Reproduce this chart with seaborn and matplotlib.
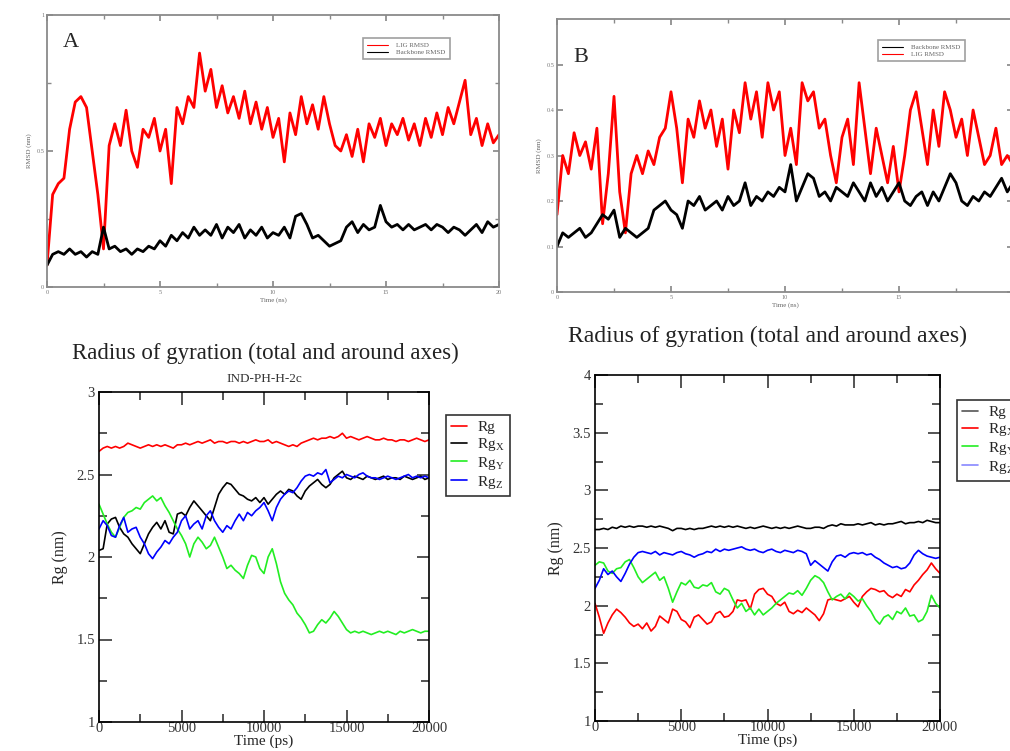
import numpy as np
import pandas as pd
import seaborn as sns
import matplotlib.pyplot as plt
from matplotlib.ticker import MultipleLocator, FormatStrFormatter

sns.set_theme(style="ticks")
plt.rcParams['font.family'] = ['Liberation Serif', 'DejaVu Serif']
plt.rcParams['mathtext.fontset'] = 'stix'

# time grids (ns for RMSD, ps for Rg), sampled every 0.25 ns / 250 ps
t_ns = np.linspace(0, 20, 81)
t_ps = np.linspace(0, 20000, 81)

# ---- panel A : RMSD ----
a_lig = [0.08, 0.34, 0.38, 0.40, 0.58, 0.68, 0.70, 0.66, 0.50, 0.34,
         0.14, 0.52, 0.60, 0.52, 0.65, 0.50, 0.44, 0.58, 0.55, 0.62,
         0.50, 0.58, 0.38, 0.66, 0.60, 0.70, 0.66, 0.86, 0.72, 0.80,
         0.66, 0.74, 0.64, 0.70, 0.62, 0.72, 0.60, 0.68, 0.58, 0.66,
         0.55, 0.62, 0.46, 0.64, 0.56, 0.70, 0.60, 0.67, 0.58, 0.70,
         0.60, 0.52, 0.50, 0.56, 0.48, 0.58, 0.46, 0.60, 0.55, 0.62,
         0.52, 0.60, 0.56, 0.62, 0.54, 0.60, 0.52, 0.62, 0.55, 0.64,
         0.56, 0.66, 0.60, 0.68, 0.76, 0.56, 0.62, 0.52, 0.60, 0.53,
         0.56]
a_bb = [0.08, 0.12, 0.13, 0.12, 0.14, 0.12, 0.13, 0.11, 0.13, 0.12,
        0.22, 0.14, 0.15, 0.13, 0.14, 0.12, 0.14, 0.13, 0.15, 0.14,
        0.17, 0.15, 0.19, 0.17, 0.20, 0.18, 0.22, 0.19, 0.21, 0.19,
        0.23, 0.18, 0.22, 0.20, 0.23, 0.18, 0.21, 0.19, 0.22, 0.18,
        0.20, 0.19, 0.22, 0.18, 0.26, 0.27, 0.23, 0.18, 0.19, 0.17,
        0.15, 0.16, 0.17, 0.22, 0.24, 0.20, 0.23, 0.21, 0.22, 0.30,
        0.24, 0.22, 0.23, 0.21, 0.23, 0.21, 0.22, 0.23, 0.21, 0.23,
        0.22, 0.20, 0.22, 0.21, 0.19, 0.21, 0.23, 0.20, 0.24, 0.22,
        0.23]

# ---- panel B : RMSD ----
b_bb = [0.10, 0.13, 0.12, 0.13, 0.14, 0.12, 0.13, 0.15, 0.17, 0.16,
        0.18, 0.12, 0.14, 0.13, 0.12, 0.13, 0.14, 0.18, 0.19, 0.20,
        0.18, 0.17, 0.14, 0.20, 0.19, 0.21, 0.18, 0.19, 0.20, 0.18,
        0.21, 0.19, 0.20, 0.24, 0.19, 0.21, 0.20, 0.22, 0.21, 0.23,
        0.22, 0.28, 0.20, 0.23, 0.26, 0.25, 0.21, 0.22, 0.20, 0.23,
        0.22, 0.21, 0.24, 0.22, 0.20, 0.24, 0.21, 0.23, 0.20, 0.22,
        0.24, 0.20, 0.19, 0.21, 0.22, 0.19, 0.22, 0.20, 0.23, 0.26,
        0.24, 0.20, 0.19, 0.21, 0.20, 0.22, 0.21, 0.23, 0.25, 0.22,
        0.24]
b_lig = [0.17, 0.30, 0.26, 0.35, 0.30, 0.33, 0.27, 0.36, 0.15, 0.26,
         0.43, 0.22, 0.13, 0.26, 0.30, 0.26, 0.31, 0.28, 0.34, 0.36,
         0.44, 0.36, 0.24, 0.38, 0.34, 0.42, 0.36, 0.40, 0.32, 0.38,
         0.27, 0.40, 0.35, 0.46, 0.38, 0.44, 0.34, 0.46, 0.40, 0.44,
         0.30, 0.36, 0.28, 0.46, 0.42, 0.44, 0.36, 0.38, 0.30, 0.24,
         0.34, 0.38, 0.28, 0.46, 0.36, 0.26, 0.36, 0.30, 0.24, 0.32,
         0.22, 0.30, 0.40, 0.44, 0.36, 0.28, 0.40, 0.32, 0.44, 0.40,
         0.34, 0.38, 0.30, 0.40, 0.34, 0.28, 0.30, 0.36, 0.28, 0.30,
         0.28]

# ---- panel C : radius of gyration (IND-PH-H-2c) ----
c_rg = [2.64, 2.66, 2.67, 2.66, 2.67, 2.66, 2.67, 2.69, 2.68, 2.67,
        2.66, 2.67, 2.68, 2.67, 2.68, 2.67, 2.68, 2.67, 2.66, 2.68,
        2.68, 2.69, 2.68, 2.69, 2.70, 2.69, 2.70, 2.71, 2.69, 2.70,
        2.70, 2.69, 2.70, 2.70, 2.69, 2.70, 2.69, 2.70, 2.71, 2.70,
        2.70, 2.71, 2.69, 2.70, 2.69, 2.68, 2.67, 2.68, 2.67, 2.69,
        2.70, 2.71, 2.72, 2.71, 2.72, 2.72, 2.73, 2.72, 2.73, 2.75,
        2.72, 2.73, 2.72, 2.71, 2.72, 2.73, 2.72, 2.71, 2.71, 2.72,
        2.71, 2.71, 2.70, 2.71, 2.71, 2.70, 2.71, 2.72, 2.71, 2.70,
        2.71]
c_rgx = [2.04, 2.05, 2.20, 2.23, 2.24, 2.18, 2.14, 2.12, 2.08, 2.05,
         2.02, 2.08, 2.14, 2.18, 2.21, 2.17, 2.22, 2.15, 2.14, 2.26,
         2.27, 2.25, 2.30, 2.34, 2.31, 2.28, 2.25, 2.22, 2.30, 2.38,
         2.42, 2.45, 2.44, 2.41, 2.38, 2.37, 2.35, 2.34, 2.36, 2.33,
         2.36, 2.32, 2.35, 2.38, 2.40, 2.38, 2.41, 2.40, 2.37, 2.35,
         2.40, 2.43, 2.45, 2.47, 2.44, 2.42, 2.44, 2.48, 2.50, 2.52,
         2.48, 2.47, 2.49, 2.48, 2.47, 2.49, 2.48, 2.47, 2.48, 2.49,
         2.47, 2.48, 2.48, 2.47, 2.49, 2.48, 2.47, 2.48, 2.49, 2.47,
         2.48]
c_rgy = [2.32, 2.26, 2.20, 2.15, 2.12, 2.18, 2.24, 2.27, 2.28, 2.30,
         2.29, 2.33, 2.35, 2.37, 2.34, 2.36, 2.31, 2.27, 2.22, 2.17,
         2.13, 2.08, 2.00, 2.08, 2.12, 2.09, 2.05, 2.07, 2.12, 2.06,
         2.00, 1.93, 1.95, 1.92, 1.90, 1.87, 1.95, 2.01, 2.00, 1.93,
         1.90, 2.00, 2.05, 1.96, 1.85, 1.78, 1.74, 1.71, 1.66, 1.63,
         1.59, 1.54, 1.55, 1.59, 1.62, 1.60, 1.63, 1.67, 1.64, 1.60,
         1.56, 1.54, 1.55, 1.54, 1.55, 1.54, 1.53, 1.54, 1.55, 1.54,
         1.55, 1.54, 1.53, 1.55, 1.54, 1.55, 1.56, 1.55, 1.54, 1.55,
         1.55]
c_rgz = [2.17, 2.22, 2.19, 2.13, 2.12, 2.19, 2.24, 2.15, 2.17, 2.18,
         2.12, 2.08, 2.02, 1.99, 2.03, 2.06, 2.10, 2.08, 2.12, 2.15,
         2.22, 2.25, 2.17, 2.20, 2.22, 2.17, 2.25, 2.28, 2.22, 2.18,
         2.15, 2.19, 2.17, 2.22, 2.26, 2.22, 2.27, 2.25, 2.28, 2.30,
         2.33, 2.28, 2.22, 2.30, 2.35, 2.38, 2.40, 2.39, 2.42, 2.46,
         2.49, 2.50, 2.49, 2.51, 2.50, 2.53, 2.45, 2.47, 2.49, 2.48,
         2.50, 2.49, 2.48, 2.50, 2.51, 2.49, 2.48, 2.48, 2.47, 2.48,
         2.49, 2.48, 2.47, 2.48, 2.49, 2.50, 2.48, 2.49, 2.48, 2.49,
         2.48]

# ---- panel D : radius of gyration ----
d_rg = [2.66, 2.66, 2.67, 2.66, 2.68, 2.67, 2.69, 2.68, 2.69, 2.68,
        2.69, 2.69, 2.68, 2.69, 2.68, 2.69, 2.68, 2.67, 2.65, 2.67,
        2.67, 2.66, 2.67, 2.66, 2.67, 2.67, 2.68, 2.69, 2.68, 2.69,
        2.68, 2.69, 2.68, 2.69, 2.68, 2.67, 2.68, 2.67, 2.68, 2.69,
        2.68, 2.67, 2.68, 2.67, 2.68, 2.67, 2.68, 2.69, 2.68, 2.67,
        2.67, 2.68, 2.68, 2.67, 2.69, 2.70, 2.69, 2.71, 2.70, 2.70,
        2.70, 2.71, 2.70, 2.71, 2.72, 2.70, 2.71, 2.70, 2.71, 2.71,
        2.72, 2.73, 2.71, 2.72, 2.72, 2.73, 2.72, 2.74, 2.73, 2.72,
        2.72]
d_rgx = [2.02, 1.90, 1.76, 1.85, 1.92, 1.97, 1.94, 1.90, 1.85, 1.82,
         1.84, 1.80, 1.85, 1.78, 1.82, 1.91, 1.88, 1.85, 1.97, 1.95,
         1.88, 1.86, 1.81, 1.90, 1.92, 1.88, 1.84, 1.86, 1.93, 1.95,
         1.90, 1.91, 1.95, 2.05, 2.04, 2.05, 1.97, 2.10, 2.14, 2.15,
         2.10, 2.08, 2.02, 2.00, 2.03, 1.95, 1.93, 1.96, 1.94, 1.98,
         1.95, 1.92, 1.87, 1.93, 2.05, 2.06, 2.05, 2.04, 2.06, 2.08,
         2.03, 1.99, 2.08, 2.12, 2.15, 2.14, 2.12, 2.13, 2.09, 2.07,
         2.10, 2.08, 2.14, 2.12, 2.18, 2.22, 2.27, 2.31, 2.37, 2.32,
         2.28]
d_rgy = [2.35, 2.38, 2.37, 2.30, 2.28, 2.32, 2.33, 2.38, 2.40, 2.33,
         2.25, 2.20, 2.23, 2.26, 2.29, 2.22, 2.25, 2.15, 2.03, 2.12,
         2.20, 2.18, 2.22, 2.16, 2.15, 2.18, 2.17, 2.20, 2.12, 2.10,
         2.15, 2.13, 2.05, 1.98, 2.02, 1.95, 1.98, 1.92, 1.97, 1.92,
         1.95, 1.98, 2.02, 2.05, 2.08, 2.11, 2.10, 2.13, 2.09, 2.15,
         2.22, 2.26, 2.24, 2.20, 2.12, 2.05, 2.08, 2.10, 2.06, 2.11,
         2.08, 2.04, 2.06, 2.00, 1.95, 1.88, 1.84, 1.90, 1.92, 1.88,
         1.95, 1.93, 1.98, 1.91, 1.92, 1.86, 1.88, 1.95, 2.09, 2.02,
         1.98]
d_rgz = [2.15, 2.22, 2.32, 2.27, 2.30, 2.25, 2.21, 2.28, 2.36, 2.42,
         2.46, 2.47, 2.46, 2.45, 2.47, 2.44, 2.46, 2.45, 2.44, 2.46,
         2.47, 2.45, 2.44, 2.42, 2.44, 2.45, 2.47, 2.46, 2.49, 2.47,
         2.49, 2.48, 2.49, 2.50, 2.51, 2.49, 2.48, 2.49, 2.47, 2.46,
         2.48, 2.49, 2.47, 2.46, 2.48, 2.47, 2.46, 2.48, 2.47, 2.45,
         2.35, 2.39, 2.36, 2.33, 2.30, 2.38, 2.43, 2.44, 2.42, 2.45,
         2.46, 2.45, 2.46, 2.44, 2.45, 2.42, 2.40, 2.37, 2.35, 2.33,
         2.34, 2.32, 2.33, 2.37, 2.44, 2.48, 2.45, 2.43, 2.42, 2.41,
         2.42]

RED, BLACK, GREEN, BLUE = '#ff0000', '#000000', '#22ee22', '#0000ff'
rg_labels = ['Rg', r'Rg$_\mathregular{X}$', r'Rg$_\mathregular{Y}$', r'Rg$_\mathregular{Z}$']

fig = plt.figure(figsize=(10.1, 7.51), dpi=100)
W, H = 1010, 751


def px_axes(x0, y0, x1, y1):
    # axes box given in pixels of the reference picture
    return fig.add_axes([x0 / W, 1 - y1 / H, (x1 - x0) / W, (y1 - y0) / H])


def rmsd_style(ax, ymax, ystep):
    gray = '#8a8a8a'
    for s in ax.spines.values():
        s.set_color(gray)
        s.set_linewidth(1.3)
    ax.set_xlim(0, 20)
    ax.set_ylim(0, ymax)
    ax.xaxis.set_major_locator(MultipleLocator(5))
    ax.xaxis.set_minor_locator(MultipleLocator(2.5))
    ax.yaxis.set_major_locator(MultipleLocator(ystep))
    ax.xaxis.set_major_formatter(FormatStrFormatter('%g'))
    ax.yaxis.set_major_formatter(FormatStrFormatter('%g'))
    ax.tick_params(which='both', direction='in', top=True, right=True,
                   color=gray, labelsize=4.5, labelcolor='#777777', pad=2)
    ax.tick_params(which='major', length=4)
    ax.tick_params(which='minor', length=3)
    ax.set_xlabel('Time (ns)', fontsize=5, color='#666666', labelpad=2)
    ax.set_ylabel('RMSD (nm)', fontsize=5, color='#666666', labelpad=3)


def rg_style(ax, ymin, ymax):
    for s in ax.spines.values():
        s.set_color('black')
        s.set_linewidth(1.2)
    ax.set_xlim(0, 20000)
    ax.set_ylim(ymin, ymax)
    ax.xaxis.set_major_locator(MultipleLocator(5000))
    ax.xaxis.set_minor_locator(MultipleLocator(2500))
    ax.yaxis.set_major_locator(MultipleLocator(0.5))
    ax.yaxis.set_minor_locator(MultipleLocator(0.25))
    ax.yaxis.set_major_formatter(FormatStrFormatter('%g'))
    ax.tick_params(which='both', direction='in', top=True, right=True,
                   labelsize=10.5, labelcolor='#333333', width=1.1)
    ax.tick_params(axis='x', pad=0)
    ax.tick_params(axis='y', pad=3)
    ax.tick_params(which='major', length=9)
    ax.tick_params(which='minor', length=6)
    ax.set_xlabel('Time (ps)', fontsize=11, labelpad=0)
    ax.set_ylabel('Rg (nm)', fontsize=11.5, labelpad=6)


def rmsd_legend(ax, handles, labels, x, y):
    leg = ax.legend(handles, labels, loc='upper left',
                    bbox_to_anchor=(x / W, 1 - y / H), bbox_transform=fig.transFigure,
                    fontsize=5, frameon=True, fancybox=False, handlelength=3,
                    borderaxespad=0, borderpad=0.6, labelspacing=0.2, handletextpad=1.2)
    leg.get_frame().set_edgecolor('#888888')
    leg.get_frame().set_linewidth(1.2)
    for txt in leg.get_texts():
        txt.set_color('#666666')


def rg_legend(ax, colors, x, y):
    hs = [plt.Line2D([], [], color=c, lw=1.2) for c in colors]
    leg = ax.legend(hs, rg_labels, loc='upper left',
                    bbox_to_anchor=(x / W, 1 - y / H), bbox_transform=fig.transFigure,
                    fontsize=11, frameon=True, fancybox=False, handlelength=1.0,
                    borderaxespad=0, borderpad=0.35, labelspacing=0.12, handletextpad=0.7)
    leg.get_frame().set_edgecolor('black')
    leg.get_frame().set_linewidth(1.2)


# ---------- A ----------
axA = px_axes(47, 15, 499, 287)
dfA = pd.DataFrame({'t': np.concatenate([t_ns, t_ns]),
                    'rmsd': a_lig + a_bb,
                    'series': ['LIG RMSD'] * 81 + ['Backbone RMSD'] * 81})
sns.lineplot(data=dfA, x='t', y='rmsd', hue='series',
             palette={'LIG RMSD': RED, 'Backbone RMSD': BLACK},
             linewidth=2.0, ax=axA, legend=False)
rmsd_style(axA, 1.0, 0.5)
axA.yaxis.set_minor_locator(MultipleLocator(0.25))
axA.text(0.035, 0.9, 'A', transform=axA.transAxes, fontsize=16, va='center')
rmsd_legend(axA, [plt.Line2D([], [], color=RED, lw=0.8), plt.Line2D([], [], color=BLACK, lw=0.8)],
            ['LIG RMSD', 'Backbone RMSD'], 363, 38)

# ---------- B ----------
axB = px_axes(557, 19, 1013, 292)
dfB = pd.DataFrame({'t': np.concatenate([t_ns, t_ns]),
                    'rmsd': b_lig + b_bb,
                    'series': ['LIG RMSD'] * 81 + ['Backbone RMSD'] * 81})
sns.lineplot(data=dfB, x='t', y='rmsd', hue='series',
             palette={'LIG RMSD': RED, 'Backbone RMSD': BLACK},
             linewidth=2.0, ax=axB, legend=False)
rmsd_style(axB, 0.6, 0.1)
axB.set_yticks([0, 0.1, 0.2, 0.3, 0.4, 0.5])
axB.text(0.035, 0.86, 'B', transform=axB.transAxes, fontsize=16, va='center')
rmsd_legend(axB, [plt.Line2D([], [], color=BLACK, lw=0.8), plt.Line2D([], [], color=RED, lw=0.8)],
            ['Backbone RMSD', 'LIG RMSD'], 878, 40)

# ---------- C ----------
axC = px_axes(99, 392, 429, 722)
dfC = pd.DataFrame({'t': np.tile(t_ps, 4),
                    'rg': c_rg + c_rgx + c_rgy + c_rgz,
                    'series': np.repeat(rg_labels, 81)})
sns.lineplot(data=dfC, x='t', y='rg', hue='series', hue_order=rg_labels,
             palette=[RED, BLACK, GREEN, BLUE], linewidth=1.2, ax=axC, legend=False)
rg_style(axC, 1, 3)
fig.text(265 / W, 1 - 353 / H, 'Radius of gyration (total and around axes)',
         fontsize=16.5, ha='center', va='center', color='#222222')
fig.text(264 / W, 1 - 379 / H, 'IND-PH-H-2c', fontsize=9.5, ha='center',
         va='center', color='#333333')
rg_legend(axC, [RED, BLACK, GREEN, BLUE], 446, 415)

# ---------- D ----------
axD = px_axes(595, 375, 940, 721)
dfD = pd.DataFrame({'t': np.tile(t_ps, 4),
                    'rg': d_rg + d_rgx + d_rgy + d_rgz,
                    'series': np.repeat(rg_labels, 81)})
sns.lineplot(data=dfD, x='t', y='rg', hue='series', hue_order=rg_labels,
             palette=[BLACK, RED, GREEN, BLUE], linewidth=1.2, ax=axD, legend=False)
rg_style(axD, 1, 4)
fig.text(768 / W, 1 - 336 / H, 'Radius of gyration (total and around axes)',
         fontsize=17, ha='center', va='center', color='#222222')
rg_legend(axD, ['#555555', RED, GREEN, '#8888ff'], 957, 400)

fig.savefig('out.png', dpi=100)
